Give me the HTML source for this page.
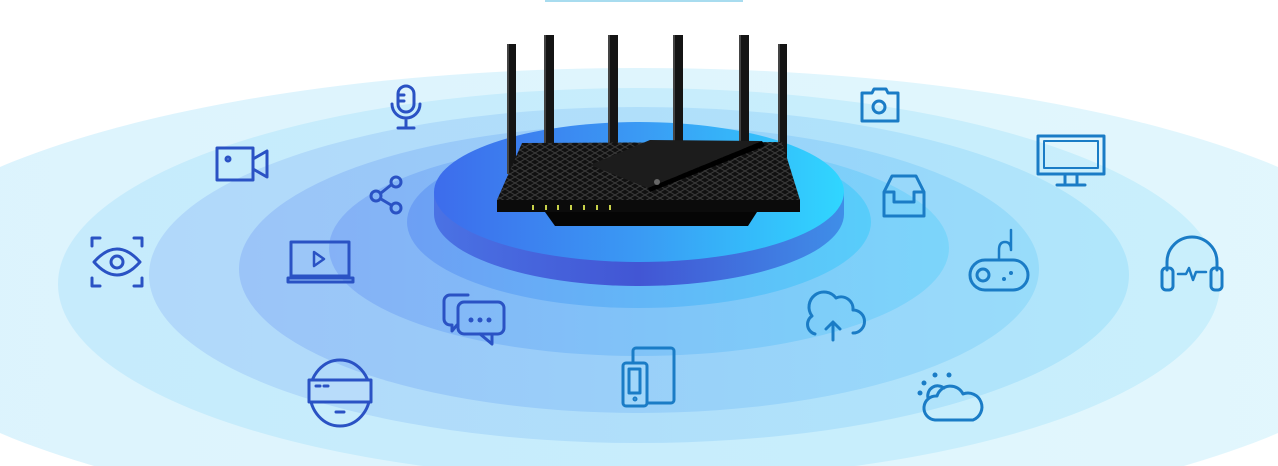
<!DOCTYPE html>
<html><head><meta charset="utf-8"><style>
html,body{margin:0;padding:0;background:#fff;width:1278px;height:466px;overflow:hidden}
svg{display:block;overflow:hidden;position:absolute;left:0;top:0}
</style></head><body>
<svg width="1278" height="466" viewBox="0 0 1278 466" xmlns="http://www.w3.org/2000/svg">
<defs>
<clipPath id="cp"><rect width="1278" height="466"/></clipPath>
<linearGradient id="g1" x1="0" x2="1"><stop offset="0" stop-color="#dcf3fd"/><stop offset="1" stop-color="#e2f7fd"/></linearGradient>
<linearGradient id="g2" x1="0" x2="1"><stop offset="0" stop-color="#c6ebfc"/><stop offset="1" stop-color="#c9effc"/></linearGradient>
<linearGradient id="g3" x1="0" x2="1"><stop offset="0" stop-color="#b1d8fa"/><stop offset="1" stop-color="#b0e6fb"/></linearGradient>
<linearGradient id="g4" x1="0" x2="1"><stop offset="0" stop-color="#9bc4f8"/><stop offset="1" stop-color="#98dcfa"/></linearGradient>
<linearGradient id="g5" x1="0" x2="1"><stop offset="0" stop-color="#85b1f6"/><stop offset="1" stop-color="#7cd5fa"/></linearGradient>
<linearGradient id="g6" x1="0" x2="1"><stop offset="0" stop-color="#6d9ff4"/><stop offset="1" stop-color="#58cdfa"/></linearGradient>
<linearGradient id="gs" x1="0" x2="1"><stop offset="0" stop-color="#4a72e4"/><stop offset="0.5" stop-color="#4256d4"/><stop offset="1" stop-color="#3f8ee8"/></linearGradient>
<linearGradient id="gt" x1="0" x2="1"><stop offset="0" stop-color="#3d6cec"/><stop offset="0.5" stop-color="#3a9af4"/><stop offset="1" stop-color="#30d6ff"/></linearGradient>
<pattern id="mesh" width="10" height="6" patternUnits="userSpaceOnUse"><rect width="10" height="6" fill="#111"/><path d="M0 0L10 6M10 0L0 6" stroke="#3a3a3a" stroke-width="1"/></pattern>
</defs>
<g clip-path="url(#cp)">
<rect x="545" y="0" width="198" height="2" fill="#a8dcef"/>
<ellipse cx="639" cy="300" rx="780" ry="232" fill="url(#g1)"/>
<ellipse cx="639" cy="284" rx="581" ry="196" fill="url(#g2)"/>
<ellipse cx="639" cy="275" rx="490" ry="168" fill="url(#g3)"/>
<ellipse cx="639" cy="269" rx="400" ry="144" fill="url(#g4)"/>
<ellipse cx="639" cy="248" rx="310" ry="108" fill="url(#g5)"/>
<ellipse cx="639" cy="222" rx="232" ry="86" fill="url(#g6)"/>
<path d="M434 192 L434 214 A205 72 0 0 0 844 214 L844 192 Z" fill="url(#gs)"/>
<ellipse cx="639" cy="192" rx="205" ry="70" fill="url(#gt)"/>
<g fill="#141414">
<rect x="507" y="44" width="9" height="130"/>
<rect x="544" y="35" width="10" height="125"/>
<rect x="608" y="35" width="10" height="115"/>
<rect x="673" y="35" width="10" height="115"/>
<rect x="739" y="35" width="10" height="125"/>
<rect x="778" y="44" width="9" height="130"/>
</g>
<g fill="#444"><rect x="507" y="44" width="2" height="130"/><rect x="544" y="35" width="2" height="125"/><rect x="608" y="35" width="2" height="115"/><rect x="673" y="35" width="2" height="115"/><rect x="739" y="35" width="2" height="125"/><rect x="778" y="44" width="2" height="130"/></g>
<path d="M522 143 L782 142 L800 200 L497 200 Z" fill="url(#mesh)"/>
<path d="M590 165 L650 140 L762 141 L648 188 Z" fill="#1c1c1c"/>
<path d="M648 188 L762 141 L765 146 L650 192 Z" fill="#000"/>
<rect x="497" y="200" width="303" height="12" fill="#0b0b0b"/>
<path d="M545 212 L757 212 L748 226 L555 226 Z" fill="#050505"/>
<g fill="#c8d24a"><rect x="532" y="205" width="2" height="5"/><rect x="545" y="205" width="2" height="5"/><rect x="557" y="205" width="2" height="5"/><rect x="570" y="205" width="2" height="5"/><rect x="583" y="205" width="2" height="5"/><rect x="596" y="205" width="2" height="5"/><rect x="609" y="205" width="2" height="5"/></g>
<circle cx="657" cy="182" r="3" fill="#666"/>
<g fill="none" stroke="#2a52c4" stroke-width="3" stroke-linecap="round" stroke-linejoin="round">
<rect x="398" y="86" width="16" height="26" rx="8"/><path d="M392 104 a14 14 0 0 0 28 0 M406 118 v10 M398 128 h16 M398 95 h6 M398 101 h6"/>
<rect x="217" y="148" width="36" height="32" /><path d="M253 159 l14 -8 v26 l-14 -8"/><circle cx="228" cy="159" r="2"/>
<circle cx="396" cy="182" r="5"/><circle cx="376" cy="196" r="5"/><circle cx="396" cy="208" r="5"/><path d="M381 193 l10 -8 M381 199 l10 6"/>
<path d="M92 246 v-8 h8 M134 238 h8 v8 M92 278 v8 h8 M134 286 h8 v-8"/><path d="M94 262 q23 -26 46 0 q-23 26 -46 0 z"/><circle cx="117" cy="262" r="6"/>
<rect x="291" y="242" width="58" height="34"/><rect x="288" y="278" width="65" height="4"/><path d="M314 252 l10 7 l-10 7 z" stroke-width="2.5"/>
<path d="M468 295 h-18 a6 6 0 0 0 -6 6 v18 a6 6 0 0 0 6 6 h2 v6 l5 -6"/><rect x="458" y="302" width="46" height="32" rx="6"/><path d="M480 334 l12 10 v-10"/>
<ellipse cx="340" cy="393" rx="30" ry="33"/><rect x="309" y="380" width="62" height="22" fill="#b8dcfa"/><path d="M316 386 h4 M324 386 h4 M336 412 h8"/>
</g>
<g fill="#2a52c4"><circle cx="471" cy="320" r="2.5"/><circle cx="480" cy="320" r="2.5"/><circle cx="489" cy="320" r="2.5"/></g>
<g fill="none" stroke="#1a7cc6" stroke-width="3" stroke-linecap="round" stroke-linejoin="round">
<rect x="633" y="348" width="41" height="55" rx="3"/><rect x="623" y="363" width="24" height="43" rx="3" fill="#a0d6fa"/><rect x="629" y="369" width="11" height="24"/><circle cx="635" cy="399" r="1"/>
<path d="M815 334 a10 10 0 0 1 -3 -18 a14 14 0 0 1 24 -18 a12 12 0 0 1 17 12 a10 10 0 0 1 0 23"/><path d="M833 340 v-17 M826 329 l7 -7 l7 7"/>
<path d="M935 420 a12 12 0 0 1 2 -24 a14 14 0 0 1 26 -2 a13 13 0 0 1 10 26 z"/><path d="M928 398 a10 10 0 0 1 16 -10"/>
<rect x="970" y="260" width="58" height="30" rx="15"/><circle cx="983" cy="275" r="6"/><path d="M999 260 v-10 q0 -8 6 -8 q6 0 6 8 v-20" stroke-width="2.5"/>
<path d="M1167 270 v-8 a25 25 0 0 1 50 0 v8"/><rect x="1162" y="268" width="11" height="22" rx="4"/><rect x="1211" y="268" width="11" height="22" rx="4"/><path d="M1178 274 h8 l3 -6 l4 12 l3 -8 h10" stroke-width="2.5"/>
<rect x="1038" y="136" width="66" height="38"/><rect x="1044" y="141" width="54" height="27" stroke-width="2"/><path d="M1065 174 v9 M1077 174 v9 M1057 185 h28"/>
<path d="M892 176 h24 l8 16 v24 h-40 v-24 z M884 192 h10 v10 h20 v-10 h10"/>
<path d="M862 93 h10 l2 -4 h12 l2 4 h10 v28 h-36 z"/><circle cx="879" cy="107" r="6"/>
</g>
<g fill="#1a7cc6"><circle cx="1011" cy="273" r="2"/><circle cx="1004" cy="279" r="2"/>
<circle cx="935" cy="375" r="2.5"/><circle cx="949" cy="375" r="2.5"/><circle cx="924" cy="383" r="2.5"/><circle cx="920" cy="393" r="2.5"/></g>
</g>
</svg>
</body></html>
